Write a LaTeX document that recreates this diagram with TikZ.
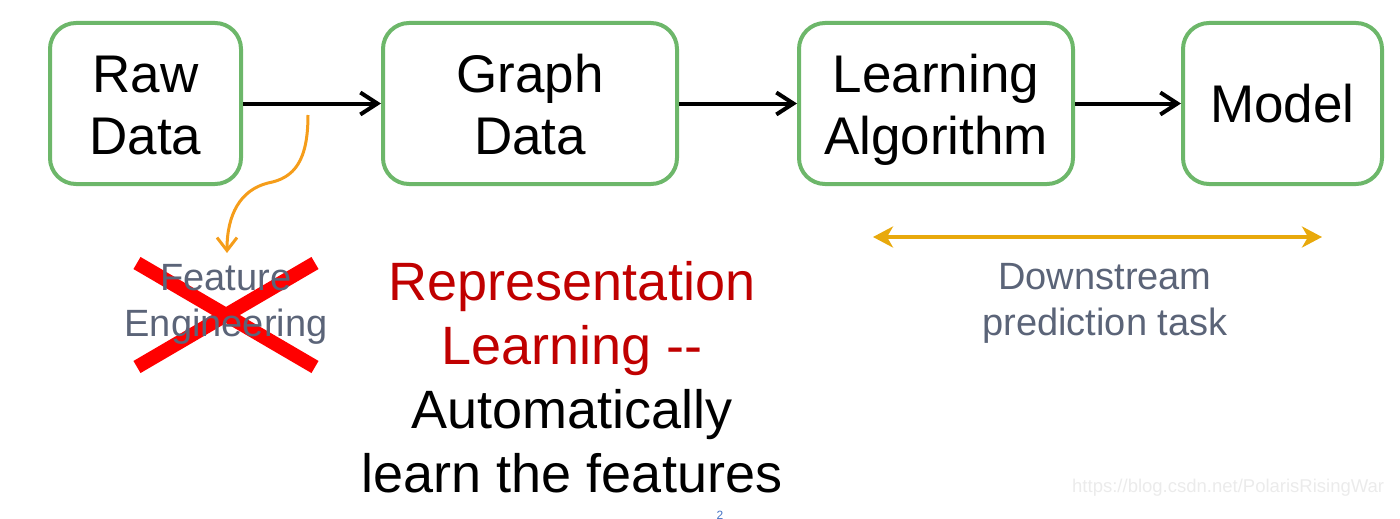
\documentclass[tikz,border=0pt]{standalone}
\usepackage{fontspec}
\setmainfont{Liberation Sans}
\usetikzlibrary{arrows.meta}
\definecolor{boxgreen}{HTML}{6DB76A}
\definecolor{slate}{HTML}{5B6478}
\definecolor{darkred}{HTML}{C00000}
\definecolor{gold}{HTML}{E8A90C}
\definecolor{curveorange}{HTML}{F59D1A}
\definecolor{xred}{HTML}{FF0000}
\definecolor{wmgray}{HTML}{EBEBEB}
\definecolor{pgblue}{HTML}{4472C4}
\newcommand{\topstrut}{\rule{0pt}{50pt}}
\newcommand{\botstrut}{\vphantom{g}}
\tikzset{
  procbox/.style={draw=boxgreen, line width=4pt, rounded corners=26pt, inner sep=0pt,
    minimum height=161pt, align=center, font=\fontsize{53}{62}\selectfont},
  flowarrow/.style={draw=black, line width=4pt, -{Straight Barb[length=17pt,width=22pt]}},
  graytext/.style={text=slate, align=center, font=\fontsize{38}{46}\selectfont, inner sep=0pt},
  crossline/.style={draw=xred, line width=14pt},
}
\begin{document}
\begin{tikzpicture}[x=1pt,y=-1pt]
\useasboundingbox (0,0) rectangle (1400,519);
% boxes
\node[procbox, minimum width=191pt] (raw) at (145.5,103.5) {\topstrut Raw\\Data\botstrut};
\node[procbox, minimum width=294pt] (graph) at (530,103.5) {\topstrut Graph\\Data\botstrut};
\node[procbox, minimum width=274pt] (learn) at (936,103.5) {\topstrut Learning\\Algorithm\botstrut};
\node[procbox, minimum width=199pt] (model) at (1282.5,103.5) {Model};
% arrows
\draw[flowarrow] (raw.east) -- (graph.west);
\draw[flowarrow] (graph.east) -- (learn.west);
\draw[flowarrow] (learn.east) -- (model.west);
% feature engineering crossed
\coordinate (xa) at (137,263);
\coordinate (xb) at (315,367);
\coordinate (xc) at (137,367);
\coordinate (xd) at (315,263);
\draw[crossline] (xa) -- (xb);
\draw[crossline] (xc) -- (xd);
\node[graytext] (feat) at (226,304) {Feature\\Engineering};
% orange curve
\coordinate (cstart) at (308,115);
\coordinate (cmid) at (268,183);
\coordinate (cend) at (227,253);
\draw[curveorange, line width=3pt, -{Straight Barb[length=13pt,width=20pt]}]
  (cstart) .. controls (308,160) and (295,178) .. (cmid)
  .. controls (240,190) and (227,215) .. (cend);
% representation learning
\node[align=center, inner sep=0pt, font=\fontsize{54}{64}\selectfont] (rep) at (572,377)
  {\textcolor{darkred}{Representation}\\\textcolor{darkred}{Learning {-}{-}}\\Automatically\\learn the features};
% downstream
\coordinate (da1) at (873,237);
\coordinate (da2) at (1322,237);
\draw[gold, line width=4.5pt, {Stealth[length=20pt,width=21pt,inset=6pt]}-{Stealth[length=20pt,width=21pt,inset=6pt]}] (da1) -- (da2);
\node[graytext] (down) at (1105,303) {Downstream\\prediction task};
% watermark and page number
\node[text=wmgray, font=\fontsize{18.5}{22}\selectfont, inner sep=0pt, anchor=base west] (wm) at (1072,492) {https://blog.csdn.net/PolarisRisingWar};
\node[text=pgblue, font=\fontsize{12}{14}\selectfont, inner sep=0pt, anchor=base] (pg) at (720,519) {2};
\end{tikzpicture}
\end{document}
